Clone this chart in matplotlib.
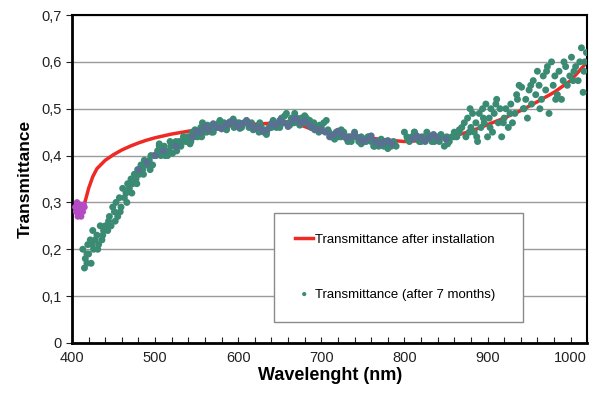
import matplotlib
matplotlib.use("Agg")
import matplotlib.pyplot as plt
from matplotlib.ticker import MultipleLocator, FuncFormatter

plt.rcParams["font.family"] = ["Liberation Sans", "DejaVu Sans"]

# red curve: transmittance right after installation
wl_install = [403, 407, 410, 413, 417, 420, 425, 430, 440, 450, 460, 470, 480, 490, 500,
              520, 540, 560, 580, 600, 620, 640, 660, 670, 680, 690, 700, 720, 740, 760,
              780, 800, 820, 840, 860, 880, 900, 920, 940, 960, 980, 1000, 1010, 1020]
t_install = [0.285, 0.275, 0.272, 0.285, 0.31, 0.33, 0.355, 0.372, 0.39, 0.402, 0.412,
             0.42, 0.427, 0.433, 0.438, 0.446, 0.452, 0.458, 0.462, 0.465, 0.467, 0.469,
             0.47, 0.468, 0.462, 0.455, 0.45, 0.445, 0.441, 0.437, 0.433, 0.43, 0.432,
             0.436, 0.442, 0.452, 0.466, 0.48, 0.496, 0.515, 0.535, 0.56, 0.58, 0.60]

# magenta points at the start of the installation curve
wl_start = [404, 405, 406, 407, 408, 409, 410, 411, 412, 413, 414, 415]
t_start = [0.29, 0.28, 0.30, 0.27, 0.29, 0.28, 0.295, 0.27, 0.285, 0.28, 0.295, 0.29]

# green dots: after 7 months
wl_7m = [413, 415, 416, 418, 419, 420, 422, 423, 425, 426, 428, 430, 432, 434, 436, 438,
         440, 443, 445, 447, 449, 451, 453, 455, 457, 459, 461, 463, 465, 467, 469, 471,
         473, 475, 477, 479, 481, 483, 485, 487, 489, 491, 493, 495, 497, 499,
         501, 503, 505, 507, 509, 511, 513, 515, 517, 519, 521, 523, 525, 527, 529, 531,
         533, 535, 537, 539, 541, 543, 545, 547, 549, 551, 553, 555, 557, 559,
         562, 565, 568, 571, 574, 577, 580, 583, 586, 589, 592, 595, 598, 601, 604, 607,
         610, 613, 616, 619, 622, 625, 628, 631, 634, 637, 640, 643, 646, 649, 652, 655,
         658, 661, 664, 667, 670, 673, 676, 679, 682, 685, 688, 691, 694, 697, 700,
         703, 706, 709, 712, 715, 718, 721, 724, 727, 730, 733, 736, 739, 742, 745, 748,
         751, 754, 757, 760, 763, 766, 769, 772, 775, 778, 781, 784, 787, 790,
         800, 803, 806, 809, 812, 815, 818, 821, 824, 827, 830, 833, 836, 839, 842, 845,
         848, 851, 854, 857, 860, 863, 866, 869,
         872, 874, 876, 878, 880, 882, 884, 886, 888, 890, 892, 894, 896, 898, 900, 902,
         904, 906, 908, 911, 913, 915, 917, 920, 922, 925, 928, 930, 933, 936, 938, 941,
         943, 946, 948, 950, 953, 955, 958, 960, 962, 965, 967, 970, 972, 974, 977, 979,
         981, 984, 986, 989, 991, 994, 996, 999, 1001, 1004, 1006, 1009, 1011, 1013,
         1015, 1017, 1019,
         505, 512, 518, 526, 534, 542, 548, 556, 563, 570, 578, 586, 594, 602, 610, 618,
         626, 634, 642, 650, 656, 662, 668, 674, 680, 686, 692, 698, 708, 716, 724, 732,
         740, 748, 756, 764, 772, 780, 788, 804, 812, 820, 828, 836, 844, 852, 860, 866,
         418, 424, 431, 437, 444, 452, 458, 466, 472, 478, 486, 494,
         879, 887, 895, 903, 910, 919, 927, 935, 944, 952, 963, 971, 982, 992, 1003, 1016]
t_7m = [0.20, 0.16, 0.18, 0.17, 0.21, 0.19, 0.22, 0.17, 0.24, 0.20, 0.22, 0.23, 0.21, 0.25,
        0.22, 0.24, 0.25, 0.24, 0.27, 0.25, 0.29, 0.28, 0.30, 0.27, 0.31, 0.29, 0.33, 0.31,
        0.32, 0.34, 0.33, 0.35, 0.34, 0.36, 0.35, 0.37, 0.36, 0.38, 0.37, 0.39, 0.38, 0.38,
        0.39, 0.40, 0.38, 0.40,
        0.40, 0.41, 0.42, 0.40, 0.41, 0.42, 0.41, 0.40, 0.41, 0.42, 0.405, 0.42, 0.43, 0.42,
        0.43, 0.42, 0.43, 0.44, 0.43, 0.44, 0.44, 0.43, 0.45, 0.44, 0.45, 0.44, 0.45, 0.46,
        0.47, 0.45,
        0.45, 0.46, 0.45, 0.46, 0.46, 0.47, 0.46, 0.47, 0.46, 0.47, 0.47, 0.46, 0.47, 0.47,
        0.46, 0.47, 0.47, 0.46, 0.47, 0.46, 0.46, 0.45, 0.46, 0.45, 0.45, 0.46, 0.46, 0.47,
        0.46, 0.47, 0.48, 0.47, 0.49, 0.47, 0.48, 0.47, 0.48, 0.47, 0.48, 0.47, 0.48, 0.47,
        0.46, 0.47, 0.46, 0.45, 0.46,
        0.47, 0.475, 0.45, 0.44, 0.44, 0.45, 0.44, 0.44, 0.45, 0.44, 0.44, 0.43, 0.44, 0.44,
        0.43, 0.44, 0.43, 0.43, 0.44, 0.43, 0.42, 0.43, 0.42, 0.43, 0.42, 0.43, 0.42, 0.42,
        0.43, 0.42,
        0.45, 0.44, 0.43, 0.44, 0.45, 0.44, 0.43, 0.44, 0.44, 0.45, 0.44, 0.43, 0.44, 0.44,
        0.43, 0.44, 0.42, 0.44, 0.43, 0.44, 0.45, 0.44, 0.45, 0.46,
        0.47, 0.44, 0.48, 0.45, 0.46, 0.49, 0.45, 0.47, 0.43, 0.49, 0.46, 0.50, 0.47, 0.51,
        0.44, 0.48, 0.50, 0.45, 0.49, 0.52, 0.47, 0.50, 0.44, 0.48, 0.50, 0.46, 0.51, 0.47,
        0.49, 0.52, 0.55, 0.546, 0.50, 0.52, 0.48, 0.54, 0.51, 0.56, 0.53, 0.58, 0.55, 0.52,
        0.57, 0.54, 0.59, 0.49, 0.60, 0.55, 0.57, 0.53, 0.58, 0.52, 0.56, 0.59, 0.55, 0.57,
        0.61, 0.58, 0.59, 0.56, 0.60, 0.63, 0.535, 0.60, 0.62,
        0.425, 0.40, 0.43, 0.41, 0.44, 0.425, 0.455, 0.44, 0.465, 0.45, 0.475, 0.455, 0.478,
        0.458, 0.475, 0.455, 0.47, 0.445, 0.475, 0.46, 0.485, 0.465, 0.49, 0.465, 0.485,
        0.475, 0.455, 0.465, 0.455, 0.435, 0.455, 0.43, 0.45, 0.425, 0.44, 0.42, 0.435,
        0.415, 0.425, 0.435, 0.45, 0.43, 0.445, 0.43, 0.445, 0.425, 0.44, 0.455,
        0.19, 0.21, 0.20, 0.23, 0.26, 0.26, 0.28, 0.30, 0.32, 0.34, 0.36, 0.37,
        0.50, 0.44, 0.48, 0.46, 0.51, 0.47, 0.49, 0.53, 0.50, 0.55, 0.50, 0.58, 0.52, 0.60,
        0.56, 0.58]

# slate-blue dots in the middle of the band
wl_mid = [480, 490, 500, 510, 525, 545, 555, 565, 575, 585, 595, 605, 615, 625, 635, 645,
          655, 665, 675, 685, 695, 705, 715, 725, 735, 745, 755, 765, 775, 785, 810, 820,
          830, 840, 850,
          550, 560, 570, 580, 590, 600, 610, 620, 630, 640, 650, 660, 670, 680, 690, 700,
          710, 720, 730, 740, 750, 760, 770, 780, 815, 825, 835]
t_mid = [0.37, 0.385, 0.40, 0.41, 0.42, 0.44, 0.45, 0.455, 0.46, 0.465, 0.47, 0.468,
         0.465, 0.46, 0.455, 0.465, 0.47, 0.475, 0.47, 0.465, 0.455, 0.45, 0.445, 0.445,
         0.44, 0.437, 0.435, 0.43, 0.428, 0.425, 0.435, 0.438, 0.44, 0.437, 0.435,
         0.452, 0.462, 0.468, 0.457, 0.472, 0.462, 0.474, 0.458, 0.452, 0.468, 0.475,
         0.462, 0.48, 0.474, 0.46, 0.455, 0.44, 0.452, 0.437, 0.446, 0.43, 0.442, 0.425,
         0.432, 0.442, 0.43, 0.445]

fig = plt.figure(figsize=(5.95, 3.96), dpi=100)
ax = fig.add_axes([0.121, 0.134, 0.866, 0.828])

ax.grid(axis="y", color="#9a9a9a", linewidth=1.0)
ax.set_axisbelow(True)

ax.plot(wl_install, t_install, color="#ee2a24", linewidth=2.5, zorder=2,
        label="Transmittance after installation")
ax.scatter(wl_start, t_start, s=22, color="#b44bc4", edgecolors="none", zorder=3)
ax.scatter(wl_7m, t_7m, s=25, color="#3a8a74", edgecolors="none", zorder=3,
           label="Transmittance (after 7 months)")
ax.scatter(wl_mid, t_mid, s=25, color="#5a7092", edgecolors="none", zorder=3)

ax.set_xlim(400, 1020)
ax.set_ylim(0, 0.7)
ax.xaxis.set_major_locator(MultipleLocator(100))
ax.xaxis.set_minor_locator(MultipleLocator(20))
ax.yaxis.set_major_locator(MultipleLocator(0.1))
ax.yaxis.set_major_formatter(FuncFormatter(lambda v, p: "0" if abs(v) < 1e-9 else f"{v:.1f}".replace(".", ",")))

ax.tick_params(axis="x", which="both", direction="in", length=4, width=0.8,
               labelsize=10.5, colors="#222222", pad=6)
ax.tick_params(axis="y", direction="out", length=4, width=0.8, labelsize=10.5,
               colors="#222222")

for side in ["left", "bottom"]:
    ax.spines[side].set_linewidth(2)
for side in ["top", "right"]:
    ax.spines[side].set_linewidth(1.5)

ax.set_xlabel("Wavelenght (nm)", fontsize=13, fontweight="bold", labelpad=1)
ax.set_ylabel("Transmittance", fontsize=12.5, fontweight="bold", labelpad=6)

leg = ax.legend(loc="center", bbox_to_anchor=(0.379, 0.052, 0.51, 0.358), mode="expand",
                fontsize=9.5, frameon=True, fancybox=False, framealpha=1,
                edgecolor="#8a8a8a", labelspacing=3.2, borderpad=1.6,
                handlelength=1.4, handletextpad=0.1, markerscale=0.6)
leg.get_frame().set_linewidth(1.0)

fig.savefig("out.png", dpi=100)
